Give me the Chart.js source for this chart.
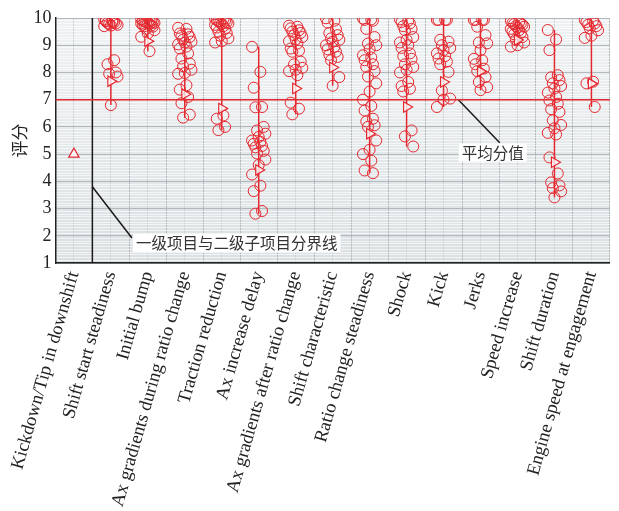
<!DOCTYPE html>
<html>
<head>
<meta charset="utf-8">
<script src="https://cdn.jsdelivr.net/npm/chart.js@4/dist/chart.umd.min.js"></script>
<style>
  html, body { margin: 0; padding: 0; background: #fff; }
  #wrap { width: 619px; height: 511px; }
</style>
</head>
<body>
<div id="wrap"><canvas id="chart"></canvas></div>
<script>
const categories = [
  'Kickdown/Tip in downshift', 'Shift start steadiness', 'Initial bump',
  'Ax gradients during ratio change', 'Traction reduction', 'Ax increase delay',
  'Ax gradients after ratio change', 'Shift characteristic', 'Ratio change steadiness',
  'Shock', 'Kick', 'Jerks', 'Speed increase', 'Shift duration', 'Engine speed at engagement'
];

// individual scores per item
const scores = [
  [],
  [9.95, 9.9, 9.88, 9.85, 9.82, 9.8, 9.78, 9.75, 9.72, 9.7, 9.85, 9.9, 8.45, 8.3, 8.0, 7.95, 7.85, 6.8],
  [9.95, 9.93, 9.9, 9.9, 9.88, 9.85, 9.85, 9.82, 9.8, 9.8, 9.78, 9.75, 9.72, 9.7, 9.68, 9.6, 9.55, 9.43, 9.31, 8.78],
  [9.64, 9.6, 9.43, 9.4, 9.35, 9.3, 9.21, 9.13, 9.1, 9.03, 8.95, 8.88, 8.7, 8.51, 8.33, 8.23, 8.1, 7.98, 7.95, 7.53, 7.37, 7.1, 6.87, 6.45, 6.34],
  [9.97, 9.95, 9.93, 9.9, 9.88, 9.85, 9.82, 9.8, 9.78, 9.75, 9.7, 9.65, 9.6, 9.5, 9.45, 9.35, 9.25, 9.15, 9.1, 6.42, 6.3, 6.0, 5.88],
  [8.94, 8.02, 7.44, 6.73, 6.72, 6.0, 5.87, 5.75, 5.63, 5.5, 5.45, 5.38, 5.3, 5.25, 5.12, 5.02, 4.8, 4.6, 4.25, 3.84, 3.64, 2.91, 2.81],
  [9.72, 9.68, 9.62, 9.55, 9.5, 9.45, 9.37, 9.3, 9.21, 9.15, 9.06, 8.88, 8.8, 8.76, 8.4, 8.3, 8.17, 8.1, 8.05, 7.9, 6.89, 6.67, 6.46],
  [9.99, 9.9, 9.83, 9.59, 9.45, 9.37, 9.25, 9.2, 9.13, 9.0, 8.94, 8.85, 8.76, 8.65, 8.57, 8.45, 7.83, 7.51],
  [9.98, 9.95, 9.93, 9.9, 9.6, 9.3, 9.06, 9.0, 8.85, 8.63, 8.55, 8.45, 8.3, 8.2, 8.05, 7.85, 7.6, 7.3, 7.0, 6.77, 6.6, 6.3, 6.2, 6.06, 6.0, 5.5, 5.16, 5.0, 4.76, 4.4, 4.3],
  [9.95, 9.9, 9.85, 9.8, 9.7, 9.6, 9.55, 9.3, 9.2, 9.1, 9.0, 8.9, 8.7, 8.6, 8.5, 8.3, 8.2, 8.1, 8.0, 7.65, 7.5, 7.4, 7.3, 5.87, 5.65, 5.28],
  [9.93, 9.93, 9.93, 9.93, 9.2, 9.13, 9.0, 8.9, 8.82, 8.7, 8.6, 8.51, 8.4, 8.3, 8.02, 7.34, 7.04, 7.0, 6.73],
  [9.93, 9.93, 9.93, 9.93, 9.68, 9.37, 9.1, 9.07, 8.82, 8.5, 8.45, 8.3, 8.14, 8.05, 7.83, 7.65, 7.46, 7.35],
  [9.9, 9.85, 9.82, 9.8, 9.78, 9.75, 9.7, 9.68, 9.65, 9.6, 9.55, 9.5, 9.45, 9.4, 9.3, 9.2, 9.1, 9.0, 8.95],
  [9.56, 9.21, 8.82, 7.9, 7.82, 7.72, 7.6, 7.5, 7.41, 7.26, 7.1, 6.97, 6.85, 6.65, 6.55, 6.24, 6.07, 5.95, 5.78, 5.72, 4.88, 4.29, 3.96, 3.85, 3.75, 3.63, 3.41],
  [9.93, 9.9, 9.85, 9.8, 9.75, 9.7, 9.62, 9.55, 9.35, 9.27, 7.66, 7.6, 6.73]
];

const means = [5.0, 7.68, 9.15, 7.2, 6.68, 4.42, 7.41, 8.18, 5.75, 6.73, 7.65, 8.04, 9.19, 4.7, 7.59];
const yTicks = [1, 2, 3, 4, 5, 6, 7, 8, 9, 10];
const avgScore = 7;

// annotation leaders, in data units (x = item index)
const dividerNote = { text: '一级项目与二级子项目分界线', from: [0.5, 3.8], to: [1.57, 1.92] };
const meanNote = { text: '平均分值', from: [10.4, 7], to: [11.52, 5.42] };

const RED = '#e5282f';
const serif = '"Liberation Serif", "DejaVu Serif", serif';

function jitter(i) {
  return ((i * 5) % 9 - 4) * 0.045;
}

const circlePoints = scores.flatMap((list, c) => list.map((v, i) => ({ x: c + jitter(i), y: v })));
const rangePoints = scores.flatMap((list, c) => list.length
  ? [{ x: c, y: Math.min(...list) }, { x: c, y: Math.max(...list) }, { x: c, y: null }]
  : []);
const meanPoints = means.map((v, c) => ({ x: c, y: v }));
const xMin = -0.5, xMax = categories.length - 0.5;
const yMin = yTicks[0], yMax = yTicks[yTicks.length - 1];

const plotBackground = {
  id: 'plotBackground',
  beforeDraw(chart) {
    const { ctx, chartArea: a } = chart;
    const g = ctx.createLinearGradient(0, a.top, 0, a.bottom);
    g.addColorStop(0, '#eff2f3');
    g.addColorStop(1, '#dbe1e3');
    ctx.save();
    ctx.fillStyle = g;
    ctx.fillRect(a.left, a.top, a.right - a.left, a.bottom - a.top);
    ctx.restore();
  }
};

const notes = {
  id: 'notes',
  afterDatasetsDraw(chart) {
    const { ctx } = chart;
    const xs = chart.scales.xv, ys = chart.scales.y;
    ctx.save();
    ctx.font = '15.5px "Noto Sans CJK SC", sans-serif';
    ctx.textBaseline = 'middle';

    // divider note: text starts at leader end
    let px = xs.getPixelForValue(dividerNote.to[0]);
    let py = ys.getPixelForValue(dividerNote.to[1]);
    let w = ctx.measureText(dividerNote.text).width;
    ctx.fillStyle = '#fff';
    ctx.fillRect(px + 1, py - 4, w + 6, 18);
    ctx.fillStyle = '#333';
    ctx.textAlign = 'left';
    ctx.fillText(dividerNote.text, px + 4, py + 5);

    // mean note: text hangs below leader end
    px = xs.getPixelForValue(meanNote.to[0]);
    py = ys.getPixelForValue(meanNote.to[1]);
    w = ctx.measureText(meanNote.text).width;
    ctx.fillStyle = '#fff';
    ctx.fillRect(px - 7 - w / 2 - 3, py + 1, w + 6, 18);
    ctx.fillStyle = '#333';
    ctx.textAlign = 'center';
    ctx.fillText(meanNote.text, px - 7, py + 10);
    ctx.restore();
  }
};

const lineSet = (data, color, width) => ({
  data, showLine: true, borderColor: color, borderWidth: width,
  pointRadius: 0, xAxisID: 'xv', yAxisID: 'y', spanGaps: false
});

new Chart(document.getElementById('chart'), {
  type: 'scatter',
  data: {
    datasets: [
      {
        data: meanPoints,
        xAxisID: 'xv', yAxisID: 'y',
        pointStyle: 'triangle',
        pointRadius: 6,
        rotation: (ctx) => (ctx.dataIndex === 0 ? 0 : 90),
        borderColor: RED, borderWidth: 1.2,
        backgroundColor: 'rgba(255,255,255,0.75)'
      },
      {
        data: circlePoints,
        xAxisID: 'xv', yAxisID: 'y',
        pointStyle: 'circle',
        pointRadius: 5.5,
        borderColor: RED, borderWidth: 1,
        backgroundColor: 'rgba(0,0,0,0)'
      },
      lineSet(rangePoints, RED, 1.5),
      lineSet([{ x: xMin, y: avgScore }, { x: xMax, y: avgScore }], RED, 1.5),
      lineSet([{ x: 0.5, y: yMin }, { x: 0.5, y: yMax }], '#1a1a1a', 1.5),
      lineSet([{ x: dividerNote.from[0], y: dividerNote.from[1] }, { x: dividerNote.to[0], y: dividerNote.to[1] }], '#1a1a1a', 1.5),
      lineSet([{ x: meanNote.from[0], y: meanNote.from[1] }, { x: meanNote.to[0], y: meanNote.to[1] }], '#1a1a1a', 1.5)
    ]
  },
  options: {
    responsive: true,
    maintainAspectRatio: false,
    animation: false,
    layout: { padding: { top: 18, right: 0, left: 9, bottom: 3 } },
    plugins: { legend: { display: false }, tooltip: { enabled: false } },
    scales: {
      x: {
        type: 'category',
        labels: categories,
        offset: true,
        grid: { offset: false, color: '#ccd2d4', drawTicks: false },
        border: { color: '#222', width: 1.5 },
        ticks: {
          autoSkip: false, minRotation: 74, maxRotation: 74, padding: 6,
          color: '#222', font: { family: serif, size: 18.5 }
        }
      },
      xv: {
        type: 'linear', position: 'bottom', min: xMin, max: xMax,
        ticks: { display: false, stepSize: 1 },
        grid: { color: '#b2b8bb', drawTicks: false },
        border: { display: false }
      },
      yMinor: {
        type: 'linear', position: 'left', min: yMin, max: yMax,
        ticks: { display: false, stepSize: 0.1, autoSkip: false },
        grid: { color: 'rgba(255,255,255,0.6)', drawTicks: false },
        border: { display: false }
      },
      y: {
        type: 'linear', position: 'left', min: yMin, max: yMax,
        afterBuildTicks: (axis) => { axis.ticks = yTicks.map((v) => ({ value: v })); },
        grid: { color: '#b2b8bb', drawTicks: false },
        border: { color: '#222', width: 1.5 },
        ticks: { padding: 4, color: '#222', font: { family: serif, size: 18 } },
        title: { display: true, text: '评分', color: '#222', padding: { top: 0, bottom: 0 }, font: { family: '"Noto Sans CJK SC", sans-serif', size: 17 } }
      }
    }
  },
  plugins: [plotBackground, notes]
});
</script>
</body>
</html>
